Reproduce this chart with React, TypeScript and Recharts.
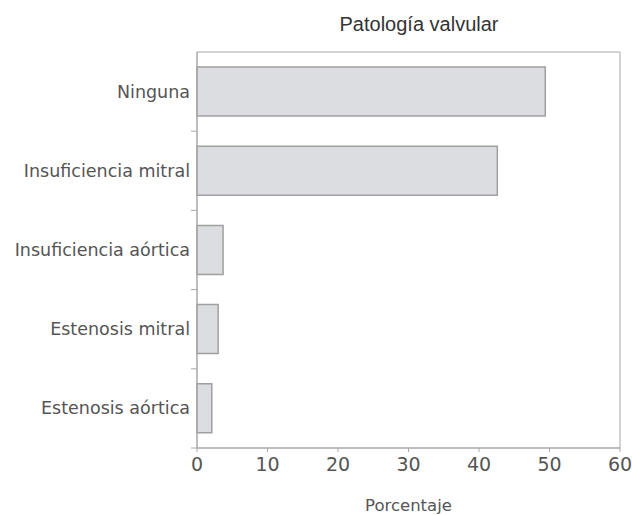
import React from 'react';
import { BarChart, Bar, XAxis, YAxis, ReferenceArea } from 'recharts';

const categories = ['Ninguna', 'Insuficiencia mitral', 'Insuficiencia aórtica', 'Estenosis mitral', 'Estenosis aórtica'];
const percentages = [49.4, 42.6, 3.7, 3.0, 2.1];
const xTicks = [0, 10, 20, 30, 40, 50, 60];

const data = categories.map((name, i) => ({ name, value: percentages[i] }));

const FONT = '"DejaVu Sans", sans-serif';
const AXIS = '#a8a8a8';
const TEXT = '#555';

const AXIS_X = 197;
const BAND = (448 - 52) / categories.length;

const CategoryTick = ({ y, payload }: any) => (
  <g>
    <text x={AXIS_X - 7} y={y} dy={6} textAnchor="end" fontSize={17.5} fontFamily={FONT} fill={TEXT}>
      {payload.value}
    </text>
    <line x1={AXIS_X - 6} x2={AXIS_X} y1={y + BAND / 2} y2={y + BAND / 2} stroke={AXIS} />
  </g>
);

export default function App() {
  return (
    <div style={{ position: 'absolute', left: 0, top: 0, width: 632, height: 515, background: '#fff' }}>
      <div
        style={{
          position: 'absolute',
          left: 299,
          width: 240,
          top: 13,
          textAlign: 'center',
          fontFamily: '"Liberation Sans", Arial, sans-serif',
          fontSize: 20,
          color: '#333',
        }}
      >
        Patología valvular
      </div>
      <BarChart
        width={632}
        height={515}
        data={data}
        layout="vertical"
        margin={{ top: 52, right: 12, left: 0, bottom: 0 }}
      >
        <XAxis
          type="number"
          domain={[0, 60]}
          ticks={xTicks}
          stroke={AXIS}
          tickSize={4}
          height={67}
          tick={{ fill: TEXT, fontSize: 19, fontFamily: FONT }}
          tickMargin={6}
          label={{ value: 'Porcentaje', position: 'insideBottom', offset: 4, fill: TEXT, fontSize: 16.5, fontFamily: FONT }}
        />
        <YAxis
          type="category"
          dataKey="name"
          width={AXIS_X}
          stroke={AXIS}
          tickLine={false}
          tick={<CategoryTick />}
        />
        <ReferenceArea x1={0} x2={60} fill="none" stroke={AXIS} strokeWidth={1} />
        <Bar dataKey="value" barSize={49} fill="#dcdde0" stroke="#a0a0a0" strokeWidth={1.5} isAnimationActive={false} />
      </BarChart>
    </div>
  );
}
